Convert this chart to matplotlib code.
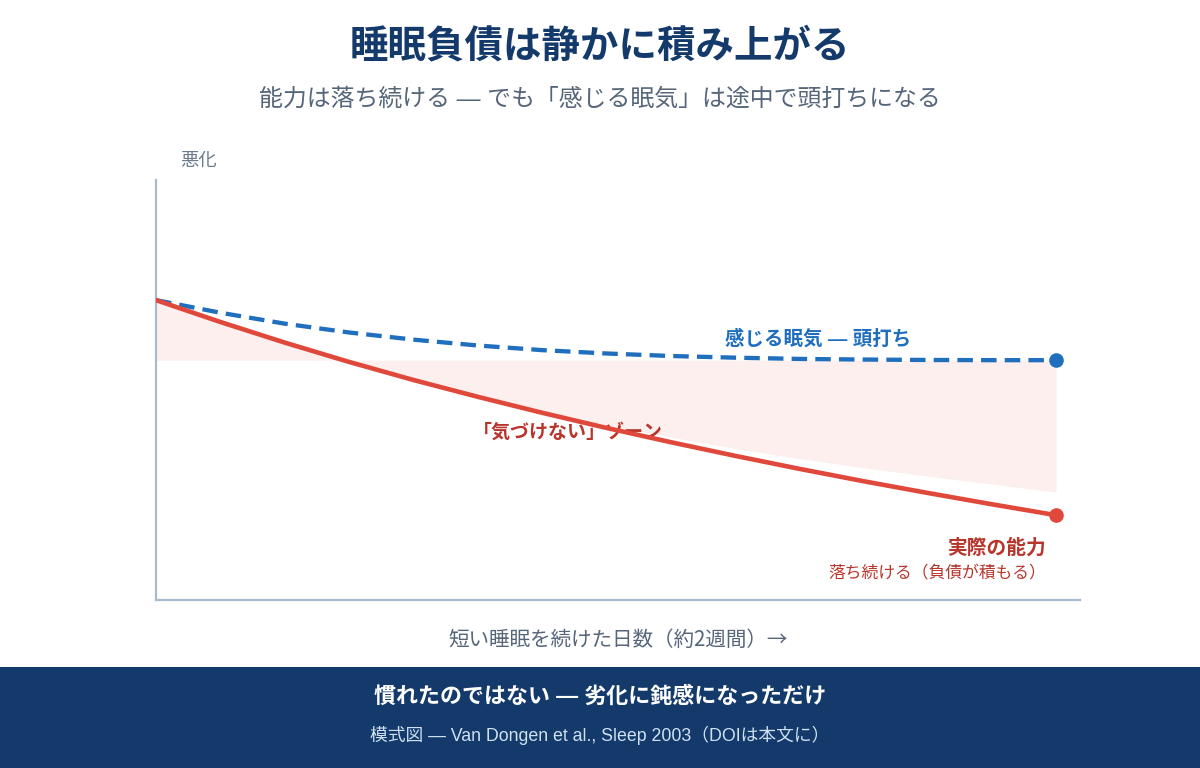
import matplotlib
matplotlib.use("Agg")
import matplotlib.pyplot as plt
from matplotlib.patches import Rectangle

plt.rcParams["font.family"] = ["Liberation Sans", "Noto Sans CJK JP", "DejaVu Sans"]

# days of short sleep (about two weeks)
days = list(range(15))
# actual performance (schematic, keeps falling)
actual = [71.4, 66.2, 61.3, 56.7, 52.4, 48.4, 44.6, 41.0, 37.6, 34.35,
          31.25, 28.3, 25.5, 22.8, 20.2]
# perceived sleepiness (plateaus)
perceived = [71.4, 68.4, 65.8, 63.7, 62.0, 60.6, 59.5, 58.7, 58.1, 57.7,
             57.4, 57.25, 57.15, 57.1, 57.1]
# lower edge of the "unnoticed" zone
zone_edge = [71.4, 66.2, 61.3, 56.7, 52.4, 48.4, 44.9, 41.7, 38.8, 36.1,
             33.7, 31.5, 29.5, 27.6, 25.7]
plateau = 57.1

TITLE = "睡眠負債は静かに積み上がる"
SUBTITLE = "能力は落ち続ける — でも「感じる眠気」は途中で頭打ちになる"
FOOT_MAIN = "慣れたのではない — 劣化に鈍感になっただけ"
FOOT_SUB = "模式図 — Van Dongen et al., Sleep 2003（DOIは本文に）"

RED = "#e0483b"
DARKRED = "#b8352c"
BLUE = "#1f6fbe"
NAVY = "#143a6b"
GRAY = "#56667a"
AXIS = "#a8bbcd"

W, H = 1200, 768
fig = plt.figure(figsize=(12, 7.68), dpi=100)

ax = fig.add_axes([156 / W, 1 - 600 / H, 924 / W, 420 / H])
ax.set_xlim(0, 14 * 924 / 900)
ax.set_ylim(0, 100)

ax.fill_between(days, [plateau] * len(days), zone_edge,
                color="#fcefed", linewidth=0, zorder=1)
ax.plot(days, perceived, color=BLUE, lw=3.1, dashes=(3.6, 1.9),
        solid_capstyle="butt", zorder=3)
ax.plot(days, actual, color=RED, lw=3.3, solid_capstyle="round", zorder=4)
ax.plot(days[-1], perceived[-1], "o", color=BLUE, ms=9.5, zorder=5)
ax.plot(days[-1], actual[-1], "o", color=RED, ms=9.5, zorder=5)

ax.text(10.3, 62.1, "感じる眠気 — 頭打ち", color=BLUE, fontsize=14,
        fontweight="bold", ha="center", va="center")
ax.text(6.41, 40.0, "「気づけない」ゾーン", color=DARKRED, fontsize=13.7,
        fontweight="bold", ha="center", va="center")
ax.text(13.84, 12.4, "実際の能力", color=DARKRED, fontsize=14.2,
        fontweight="bold", ha="right", va="center")
ax.text(13.84, 6.4, "落ち続ける（負債が積もる）", color=DARKRED,
        fontsize=12.1, ha="right", va="center")

for s in ("top", "right"):
    ax.spines[s].set_visible(False)
for s in ("left", "bottom"):
    ax.spines[s].set_color(AXIS)
    ax.spines[s].set_linewidth(1.6)
ax.set_xticks([])
ax.set_yticks([])

fig.text(180 / W, 1 - 161 / H, "悪化", color="#6b7a8c", fontsize=13.2,
         ha="left", va="center")
fig.text(618 / W, 1 - 640 / H, "短い睡眠を続けた日数（約2週間）→", color=GRAY,
         fontsize=14.8, ha="center", va="center",
         family=["Noto Sans CJK JP", "DejaVu Sans"])

fig.text(0.5, 1 - 47 / H, TITLE, color=NAVY, fontsize=27.7, fontweight="bold",
         ha="center", va="center")
fig.text(0.5, 1 - 99 / H, SUBTITLE, color=GRAY, fontsize=17.2,
         ha="center", va="center")

fig.patches.append(Rectangle((0, 0), 1, (H - 667) / H, transform=fig.transFigure,
                             facecolor=NAVY, edgecolor="none", zorder=0))
fig.text(0.5, 1 - 697 / H, FOOT_MAIN, color="white", fontsize=15.8,
         fontweight="bold", ha="center", va="center")
fig.text(0.5, 1 - 735 / H, FOOT_SUB, color="#cfe0f2", fontsize=12.8,
         ha="center", va="center")

fig.savefig("out.png", dpi=100, facecolor="white")
